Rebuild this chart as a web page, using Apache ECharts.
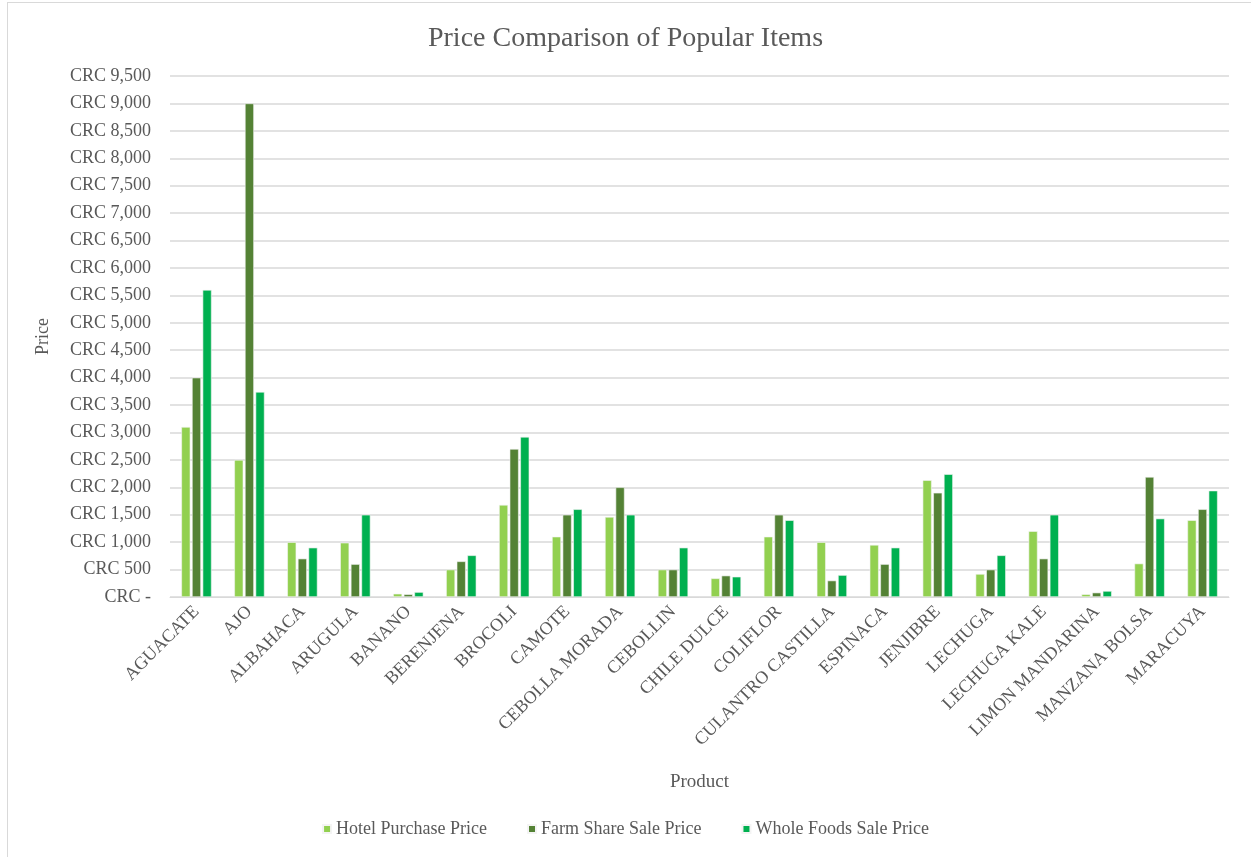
<!DOCTYPE html>
<html>
<head>
<meta charset="utf-8">
<script src="https://cdn.jsdelivr.net/npm/echarts@6/dist/echarts.min.js"></script>
<style>
  html, body { margin: 0; padding: 0; background: #fff; }
  .chart-warp {
    position: absolute;
    left: 7px;
    top: 2px;
    width: 1260px;
    height: 870px;
    border-top: 1px solid #d9d9d9;
    border-left: 1px solid #d9d9d9;
  }
  #chartBox {
    position: absolute;
    left: 0;
    top: 0;
    width: 1251px;
    height: 857px;
  }
</style>
</head>
<body>
<div class="chart-warp"></div>
<div id="chartBox"></div>
<script>
const products = ['AGUACATE', 'AJO', 'ALBAHACA', 'ARUGULA', 'BANANO', 'BERENJENA', 'BROCOLI', 'CAMOTE',
  'CEBOLLA MORADA', 'CEBOLLIN', 'CHILE DULCE', 'COLIFLOR', 'CULANTRO CASTILLA', 'ESPINACA', 'JENJIBRE',
  'LECHUGA', 'LECHUGA KALE', 'LIMON MANDARINA', 'MANZANA BOLSA', 'MARACUYA']
const hotelPrice = [3100, 2500, 1000, 990, 60, 500, 1680, 1100, 1460, 500, 340, 1100, 1000, 950, 2130, 420, 1200, 50, 610, 1400]
const farmPrice = [4000, 9000, 700, 600, 50, 650, 2700, 1500, 2000, 500, 390, 1500, 300, 600, 1900, 500, 700, 80, 2190, 1600]
const wholeFoodsPrice = [5600, 3740, 900, 1500, 90, 760, 2920, 1600, 1500, 900, 370, 1400, 400, 900, 2240, 760, 1500, 110, 1430, 1940]
const seriesNames = ['Hotel Purchase Price', 'Farm Share Sale Price', 'Whole Foods Sale Price']
const color = ['#92D050', '#548235', '#00B050']

const textColor = '#595959'
const font = '"Liberation Serif", "Times New Roman", serif'

const charts = echarts.init(document.getElementById('chartBox'))

// 柱子的公共样式
function barSeries(name, data) {
  return {
    name: name,
    type: 'bar',
    data: data,
    barWidth: 9,
    barGap: '18%',
    itemStyle: {
      borderColor: '#f4f4f4',
      borderWidth: 0.6
    }
  }
}

charts.setOption({
  color: color,
  animation: false,
  textStyle: { fontFamily: font },
  title: {
    text: 'Price Comparison of Popular Items',
    left: 'center',
    top: 20,
    textStyle: {
      fontFamily: font,
      fontSize: 28,
      fontWeight: 'normal',
      color: textColor
    }
  },
  grid: {
    left: 170,
    right: 22,
    top: 76,
    bottom: 260
  },
  legend: {
    bottom: 14,
    left: 'center',
    itemWidth: 8,
    itemHeight: 8,
    itemGap: 40,
    icon: 'rect',
    textStyle: {
      fontFamily: font,
      fontSize: 18,
      color: textColor
    }
  },
  xAxis: {
    type: 'category',
    data: products,
    name: 'Product',
    nameLocation: 'middle',
    nameGap: 176,
    nameTextStyle: {
      fontFamily: font,
      fontSize: 19,
      color: textColor
    },
    axisLine: { lineStyle: { color: '#d9d9d9' } },
    axisTick: { show: false },
    axisLabel: {
      rotate: 45,
      interval: 0,
      margin: 12,
      fontFamily: font,
      fontSize: 18,
      color: textColor
    }
  },
  yAxis: {
    type: 'value',
    min: 0,
    max: 9500,
    interval: 500,
    name: 'Price',
    nameLocation: 'middle',
    nameGap: 118,
    nameTextStyle: {
      fontFamily: font,
      fontSize: 18,
      color: textColor
    },
    axisLine: { show: false },
    axisTick: { show: false },
    splitLine: { lineStyle: { color: '#d9d9d9', width: 1.5 } },
    axisLabel: {
      margin: 19,
      fontFamily: font,
      fontSize: 18,
      color: textColor,
      formatter: (v) => v === 0 ? 'CRC -' : 'CRC ' + v.toLocaleString('en-US')
    }
  },
  series: [
    barSeries(seriesNames[0], hotelPrice),
    barSeries(seriesNames[1], farmPrice),
    barSeries(seriesNames[2], wholeFoodsPrice)
  ]
})
</script>
</body>
</html>
